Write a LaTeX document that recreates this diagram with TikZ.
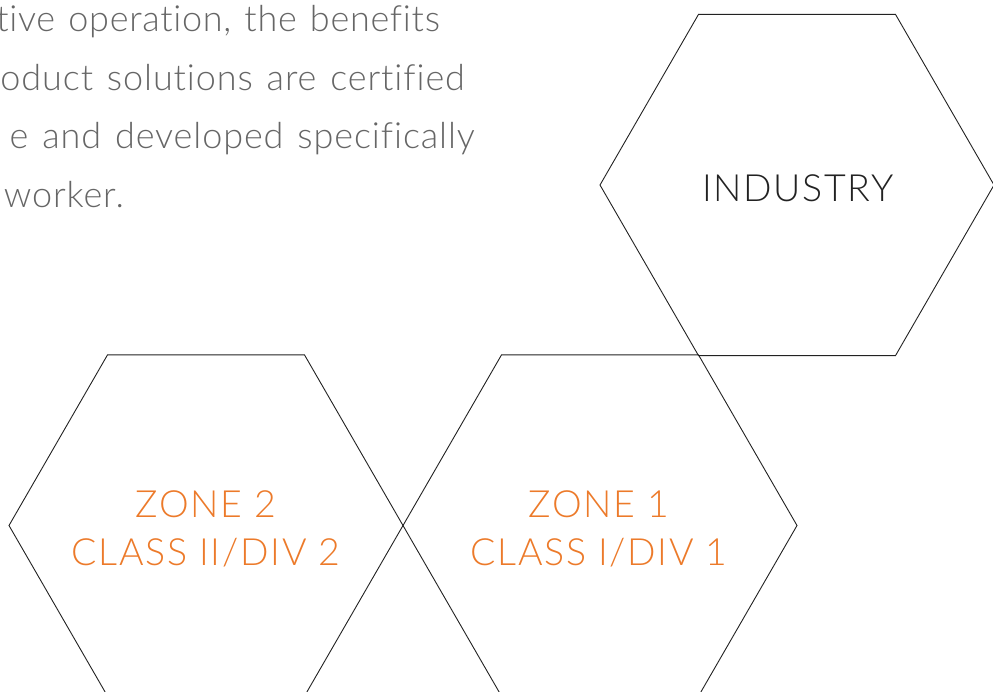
\documentclass[tikz,border=0pt]{standalone}
\usepackage{fontspec}
\setmainfont{Lato}[UprightFont=* Light, Ligatures=NoCommon]
\newfontfamily\bodyfont{Lato}[UprightFont=* Light, Ligatures=NoCommon, LetterSpace=2.5, WordSpace=1.3]
\newfontfamily\bodyfonttight{Lato}[UprightFont=* Light, Ligatures=NoCommon, LetterSpace=2.0, WordSpace=1.25]
\newfontfamily\labelfont{Lato}[UprightFont=* Light, Ligatures=NoCommon, LetterSpace=4.5]
\definecolor{zoneorange}{HTML}{EC7A2A}
\definecolor{bodygray}{HTML}{666666}
\definecolor{inkblack}{HTML}{222222}
\begin{document}
\begin{tikzpicture}[x=1pt,y=-1pt,
  hexline/.style={draw=inkblack, line width=0.9pt},
  zonetext/.style={text=zoneorange, font=\labelfont\fontsize{37.5}{46}\selectfont, inner sep=0pt, anchor=base},
  indtext/.style={text=inkblack, font=\labelfont\fontsize{37.5}{46}\selectfont, inner sep=0pt, anchor=base},
  bodytext/.style={text=bodygray, font=\bodyfont\fontsize{36}{58}\selectfont, inner sep=0pt, anchor=base east}]
\useasboundingbox (0,0) rectangle (993,691);
\clip (0,0) rectangle (993,691);
% hexagon centres
\coordinate (ind) at (797,185);
\coordinate (z1) at (600,525.5);
\coordinate (z2) at (206,525.5);
% hexagons
\foreach \c in {ind,z1,z2}{
  \draw[hexline] (\c) +(0:197) -- +(60:197) -- +(120:197) -- +(180:197) -- +(240:197) -- +(300:197) -- cycle;
}
% body text (cut off at the left)
\node[bodytext, font=\bodyfonttight\fontsize{36}{58}\selectfont] (l1) at (440,31.5) {tive operation, the benefits};
\node[bodytext] (l2) at (465,90) {oduct solutions are certified};
\node[bodytext] (l3) at (475,148.5) {e and developed specifically};
\node[bodytext] (l4) at (124,207) {worker.};
% labels
\node[indtext] (industry) at (798,201) {INDUSTRY};
\node[zonetext] (z2a) at (206,517) {ZONE 2};
\node[zonetext] (z2b) at (206,565) {CLASS II/DIV 2};
\node[zonetext] (z1a) at (599,517) {ZONE 1};
\node[zonetext] (z1b) at (599,565) {CLASS I/DIV 1};
\end{tikzpicture}
\end{document}
